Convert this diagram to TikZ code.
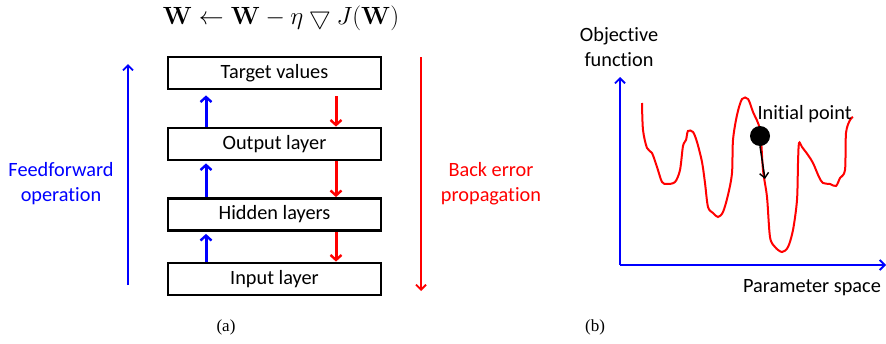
\documentclass[tikz,border=0pt]{standalone}
\usepackage[no-math]{fontspec}
\setmainfont{Carlito}[RawFeature={-liga;-dlig}]
\newfontfamily\capfont{Liberation Serif}
\usetikzlibrary{arrows.meta}
\tikzset{
  layerbox/.style={draw,line width=2.8pt,minimum width=213pt,minimum height=32pt,inner sep=0pt,font=\fontsize{20.3}{24}\selectfont},
  fwd/.style={draw=blue,line width=3pt,-{Straight Barb[length=5pt,width=11pt,line width=2.4pt]}},
  back/.style={draw=red,line width=3pt,-{Straight Barb[length=5pt,width=11pt,line width=2.4pt]}},
  sidearrow/.style={line width=2pt,-{Straight Barb[length=5pt,width=10pt,line width=1.8pt]}},
  sidetext/.style={align=center,font=\fontsize{20.3}{25}\selectfont},
}
\begin{document}
\begin{tikzpicture}[x=1pt,y=-1pt]
\useasboundingbox (0,0) rectangle (886,343);
% (a) layers
\node (eq) at (281,18) {\fontsize{26}{29}\selectfont $\mathbf{W}\leftarrow\mathbf{W}-\eta\bigtriangledown J(\mathbf{W})$};
\node[layerbox] (target) at (274.5,73) {Target values};
\node[layerbox] (output) at (274.5,144) {Output layer};
\node[layerbox] (hidden) at (274.5,214.5) {Hidden layers};
\node[layerbox] (input) at (274.5,279) {Input layer};
\draw[fwd] ([xshift=-68.5pt]output.north) -- ([xshift=-68.5pt,yshift=-5pt]target.south);
\draw[fwd] ([xshift=-68.5pt]hidden.north) -- ([xshift=-68.5pt,yshift=-2pt]output.south);
\draw[fwd] ([xshift=-68.5pt]input.north) -- ([xshift=-68.5pt,yshift=-2pt]hidden.south);
\draw[back] ([xshift=61.5pt,yshift=-6pt]target.south) -- ([xshift=61.5pt]output.north);
\draw[back] ([xshift=61.5pt]output.south) -- ([xshift=61.5pt]hidden.north);
\draw[back] ([xshift=61.5pt]hidden.south) -- ([xshift=61.5pt]input.north);
\coordinate (ffbot) at (128,285);
\coordinate (fftop) at (128,64);
\coordinate (bptop) at (421,57);
\coordinate (bpbot) at (421,291);
\draw[sidearrow,blue] (ffbot) -- (fftop);
\draw[sidearrow,red] (bptop) -- (bpbot);
\node[sidetext,text=blue] (fflabel) at (61,184) {Feedforward\\operation};
\node[sidetext,text=red] (bplabel) at (491,184) {Back error\\propagation};
\node[font=\capfont\fontsize{17}{20}\selectfont] (capa) at (226,327) {(a)};
% (b) objective function
\coordinate (origin) at (620,265);
\coordinate (ytip) at (620,77);
\coordinate (xtip) at (886,265);
\draw[sidearrow,blue,line width=2.2pt] (origin) -- (ytip);
\draw[sidearrow,blue,line width=2.2pt] (origin) -- (xtip);
\node[sidetext] (ylabel) at (619,47) {Objective\\function};
\node[font=\fontsize{20.3}{24}\selectfont] (xlabel) at (812,288) {Parameter space};
\draw[red,line width=2pt] plot[smooth,tension=0.5] coordinates {
  (642,103) (643,130) (647,148) (652,153) (657,167) (662,182) (667,184) (675,182)
  (680,170) (683,146) (686,140) (688,131) (693,132) (697,142) (702,162) (705,183)
  (708,207) (713,213) (718,217) (723,212) (728,195) (732,173) (733,140) (737,115)
  (742,99) (748,99) (753,112) (760,130) (763,170) (767,197) (770,237) (775,247)
  (782,252) (788,247) (793,230) (797,200) (798,163) (799,143) (802,147) (808,155)
  (813,163) (819,177) (823,183) (830,184) (836,186) (840,178) (845,170) (846,133)
  (850,120) (853,117)};
\node[circle,fill=black,minimum size=20pt,inner sep=0pt] (ball) at (760,136) {};
\coordinate (balltip) at (765,179);
\draw[line width=1.5pt,-{Straight Barb[length=5pt,width=9pt,line width=1.4pt]}] (ball.south) -- (balltip);
\node[anchor=west,font=\fontsize{20.3}{24}\selectfont] (ballabel) at (754,114) {Initial point};
\node[font=\capfont\fontsize{17}{20}\selectfont] (capb) at (595,327) {(b)};
\end{tikzpicture}
\end{document}
